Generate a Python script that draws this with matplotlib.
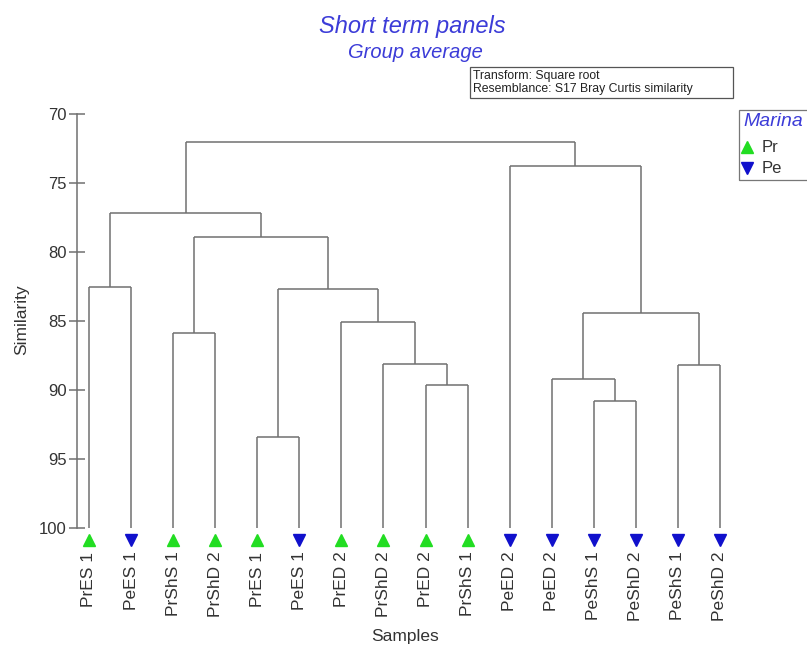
import numpy as np
import matplotlib.pyplot as plt
from matplotlib.patches import Rectangle
from matplotlib.lines import Line2D

plt.rcParams['font.family'] = ['Liberation Sans', 'DejaVu Sans']

# leaves in plotting order
samples = ['PrES 1', 'PeES 1', 'PrShS 1', 'PrShD 2', 'PrES 1', 'PeES 1', 'PrED 2', 'PrShD 2',
           'PrED 2', 'PrShS 1', 'PeED 2', 'PeED 2', 'PeShS 1', 'PeShD 2', 'PeShS 1', 'PeShD 2']
marina = ['Pr', 'Pe', 'Pr', 'Pr', 'Pr', 'Pe', 'Pr', 'Pr', 'Pr', 'Pr', 'Pe', 'Pe', 'Pe', 'Pe', 'Pe', 'Pe']

# merges: node 16 onward joins (left, right) at similarity
merge_left = [0, 2, 4, 8, 7, 6, 18, 17, 16, 12, 11, 14, 26, 10, 24]
merge_right = [1, 3, 5, 9, 19, 20, 21, 22, 23, 13, 25, 15, 27, 28, 29]
merge_sim = [82.55, 85.9, 93.4, 89.65, 88.1, 85.1, 82.7, 78.9, 77.2, 90.8, 89.2, 88.2, 84.4, 73.8, 72.0]

styles = {'Pr': ('^', '#22dd22'), 'Pe': ('v', '#1010cc')}
line_col = '#707070'
blue_txt = '#3c3cd8'

fig = plt.figure(figsize=(8.07, 6.47), dpi=100)
ax = fig.add_axes([77/807, 1-528/647, 664/807, 414/647])

n = len(samples)
xpos = {i: float(i) for i in range(n)}
ypos = {i: 100.0 for i in range(n)}
for k, (a, b, s) in enumerate(zip(merge_left, merge_right, merge_sim)):
    node = n + k
    for c in (a, b):
        ax.plot([xpos[c], xpos[c]], [ypos[c], s], color=line_col, lw=1.1, solid_capstyle='butt')
    ax.plot([xpos[a], xpos[b]], [s, s], color=line_col, lw=1.1, solid_capstyle='butt')
    xpos[node] = (xpos[a] + xpos[b]) / 2
    ypos[node] = s

for i, g in enumerate(marina):
    m, c = styles[g]
    ax.plot(i, 100.85, marker=m, color=c, markersize=8.5, clip_on=False, linestyle='none')

ax.set_ylim(100, 70)
ax.set_xlim(-0.285, 15.5)
ax.set_yticks([70, 75, 80, 85, 90, 95, 100])
ax.set_xticks(range(n))
ax.set_xticklabels(samples, rotation=90, fontsize=12.5, color='#333333', va='top')
ax.tick_params(axis='x', length=0, pad=17)
ax.tick_params(axis='y', direction='inout', length=11, width=1.1, color=line_col,
               labelsize=12, labelcolor='#333333', pad=2)
for sp in ['top', 'right', 'bottom']:
    ax.spines[sp].set_visible(False)
ax.spines['left'].set_color(line_col)
ax.spines['left'].set_linewidth(1.1)

fig.text(22/807, 1-320/647, 'Similarity', rotation=90, ha='center', va='center',
         fontsize=12.5, color='#333333')
fig.text(405/807, 1-637/647, 'Samples', ha='center', va='center', fontsize=12.5, color='#333333')

fig.text(412/807, 1-27/647, 'Short term panels', ha='center', va='center',
         fontsize=17, style='italic', color=blue_txt)
fig.text(415/807, 1-52/647, 'Group average', ha='center', va='center',
         fontsize=14.5, style='italic', color=blue_txt)

# info box
fig.patches.append(Rectangle((470/807, 1-98/647), 263/807, 31/647, transform=fig.transFigure,
                             fill=False, edgecolor='#555555', lw=0.9))
fig.text(473/807, 1-76/647, 'Transform: Square root', ha='left', va='center', fontsize=8.8, color='#222222')
fig.text(473/807, 1-89/647, 'Resemblance: S17 Bray Curtis similarity', ha='left', va='center',
         fontsize=8.8, color='#222222')

# legend (runs off the right edge)
fig.patches.append(Rectangle((739/807, 1-180/647), 100/807, 70/647, transform=fig.transFigure,
                             fill=False, edgecolor='#777777', lw=0.9))
fig.text(743/807, 1-122/647, 'Marina', ha='left', va='center', fontsize=14, style='italic', color=blue_txt)
for j, g in enumerate(['Pr', 'Pe']):
    m, c = styles[g]
    yy = 1 - (147 + 21*j)/647
    fig.add_artist(Line2D([747/807], [yy], marker=m, color=c, markersize=8.5, transform=fig.transFigure))
    fig.text(762/807, yy, g, ha='left', va='center', fontsize=12, color='#333333')

fig.savefig('out.png', dpi=100)
